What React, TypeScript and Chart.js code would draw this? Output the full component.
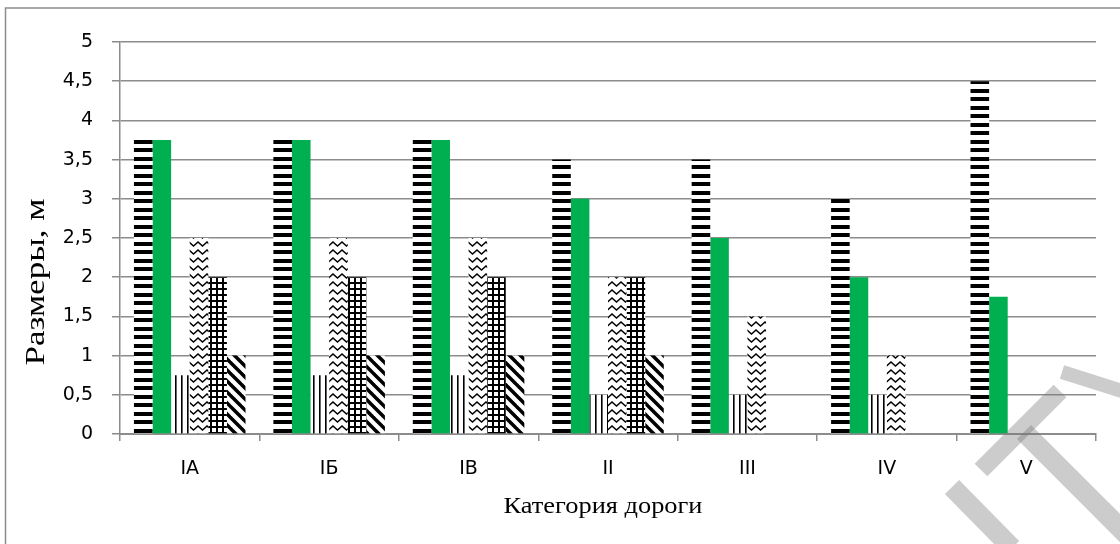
import React, { useEffect, useRef } from 'react';
import { Chart, registerables } from 'chart.js';

Chart.register(...registerables);

const categories = ['IA', 'IБ', 'IВ', 'II', 'III', 'IV', 'V'];
const laneWidth = [3.75, 3.75, 3.75, 3.5, 3.5, 3.0, 4.5];
const shoulderWidth = [3.75, 3.75, 3.75, 3.0, 2.5, 2.0, 1.75];
const edgeStrip = [0.75, 0.75, 0.75, 0.5, 0.5, 0.5, null];
const stripFour = [2.5, 2.5, 2.5, 2.0, 1.5, 1.0, null];
const medianWidth = [2, 2, 2, 2, null, null, null];
const medianStrip = [1, 1, 1, 1, null, null, null];

const yMin = 0;
const yMax = 5;
const yStep = 0.5;

const yTitle = 'Размеры, м';
const xTitle = 'Категория дороги';

const tickFont = '"DejaVu Sans", "Open Sans", sans-serif';
const titleFont = '"Liberation Serif", "Times New Roman", serif';
const axisGray = '#8c8c8c';

function makePattern(
  ctx: CanvasRenderingContext2D,
  w: number,
  h: number,
  draw: (c: CanvasRenderingContext2D) => void
): CanvasPattern | string {
  const tile = document.createElement('canvas');
  tile.width = w;
  tile.height = h;
  const t = tile.getContext('2d');
  if (!t) return '#000';
  t.fillStyle = '#ffffff';
  t.fillRect(0, 0, w, h);
  t.fillStyle = '#000000';
  t.strokeStyle = '#000000';
  draw(t);
  return ctx.createPattern(tile, 'repeat') || '#000';
}

const decorPlugin = {
  id: 'decor',
  afterDraw(chart: any) {
    const ctx: CanvasRenderingContext2D = chart.ctx;
    const area = chart.chartArea;
    ctx.save();
    // outer chart frame
    ctx.strokeStyle = axisGray;
    ctx.lineWidth = 1.5;
    ctx.beginPath();
    ctx.moveTo(5.5, 544);
    ctx.lineTo(5.5, 8);
    ctx.lineTo(1120, 8);
    ctx.stroke();

    // axis titles
    ctx.fillStyle = '#000';
    ctx.textAlign = 'center';
    ctx.textBaseline = 'middle';
    ctx.save();
    ctx.translate(37, 282);
    ctx.rotate(-Math.PI / 2);
    ctx.scale(1.3, 1);
    ctx.font = '27px ' + titleFont;
    ctx.fillText(yTitle, 0, 0);
    ctx.restore();
    ctx.save();
    ctx.translate((area.left + area.right) / 2 - 5, 507);
    ctx.scale(1.1, 1);
    ctx.font = '24px ' + titleFont;
    ctx.fillText(xTitle, 0, 0);
    ctx.restore();

    // watermark fragment
    ctx.strokeStyle = 'rgba(120,120,120,0.38)';
    ctx.lineCap = 'butt';
    const seg = (x1: number, y1: number, x2: number, y2: number, w: number) => {
      ctx.lineWidth = w;
      ctx.beginPath();
      ctx.moveTo(x1, y1);
      ctx.lineTo(x2, y2);
      ctx.stroke();
    };
    seg(981, 470, 1060, 391, 18);
    seg(1024, 432, 1135, 543, 20);
    seg(1062, 372, 1125, 392, 14);
    seg(952, 487, 1012, 548, 20);
    ctx.restore();
  },
};

export default function App() {
  const canvasRef = useRef<HTMLCanvasElement | null>(null);

  useEffect(() => {
    const canvas = canvasRef.current;
    if (!canvas) return;
    const ctx = canvas.getContext('2d');
    if (!ctx) return;

    const hStripes = makePattern(ctx, 4, 17, (t) => {
      t.fillRect(0, 4, 4, 4);
      t.fillRect(0, 12, 4, 4);
    });
    const vLines = makePattern(ctx, 6, 4, (t) => {
      t.fillRect(1, 0, 1.6, 4);
    });
    const zigzag = makePattern(ctx, 9, 8, (t) => {
      t.lineWidth = 1.4;
      t.beginPath();
      t.moveTo(-4.5, 6);
      t.lineTo(0, 2);
      t.lineTo(4.5, 6);
      t.lineTo(9, 2);
      t.lineTo(13.5, 6);
      t.stroke();
    });
    const grid = makePattern(ctx, 6, 6, (t) => {
      t.fillRect(0, 0, 6, 2);
      t.fillRect(0, 0, 2, 6);
    });
    const diag = makePattern(ctx, 11, 11, (t) => {
      t.lineWidth = 3.5;
      for (const k of [-11, 0, 11]) {
        t.beginPath();
        t.moveTo(k - 1, -1);
        t.lineTo(k + 12, 12);
        t.stroke();
      }
    });

    const common = { borderWidth: 0, barPercentage: 1, categoryPercentage: 0.8 };

    const chart = new Chart(ctx, {
      type: 'bar',
      data: {
        labels: categories,
        datasets: [
          { label: 'Ширина полосы движения', data: laneWidth, backgroundColor: hStripes, ...common },
          { label: 'Ширина обочины', data: shoulderWidth, backgroundColor: '#00B050', ...common },
          { label: 'Краевая полоса', data: edgeStrip, backgroundColor: vLines, ...common },
          { label: 'Укреплённая полоса', data: stripFour, backgroundColor: zigzag, ...common },
          { label: 'Разделительная полоса', data: medianWidth, backgroundColor: grid, ...common },
          { label: 'Краевая полоса у разделительной', data: medianStrip, backgroundColor: diag, ...common },
        ],
      } as any,
      options: {
        animation: false,
        responsive: false,
        maintainAspectRatio: false,
        layout: { padding: { top: 42, right: 24, left: 0, bottom: 0 } },
        plugins: {
          legend: { display: false },
          tooltip: { enabled: false },
          title: { display: false },
        },
        scales: {
          x: {
            grid: {
              display: true,
              drawOnChartArea: false,
              drawTicks: true,
              tickLength: 7,
              color: axisGray,
              lineWidth: 1.5,
              offset: true,
            },
            border: { display: true, color: axisGray, width: 2 },
            ticks: {
              font: { family: tickFont, size: 19 },
              color: '#000',
              padding: 17,
              maxRotation: 0,
              autoSkip: false,
            },
            afterFit: (s: any) => {
              s.height = 110;
            },
          },
          y: {
            min: yMin,
            max: yMax,
            ticks: {
              stepSize: yStep,
              callback: (v: any) => String(v).replace('.', ','),
              font: { family: tickFont, size: 19 },
              color: '#000',
              padding: 19,
            },
            grid: { color: axisGray, lineWidth: 1.5, tickLength: 8, drawTicks: true },
            border: { display: true, color: axisGray, width: 1.5 },
            afterFit: (s: any) => {
              s.width = 120;
            },
          },
        },
      } as any,
      plugins: [decorPlugin],
    });

    return () => {
      chart.destroy();
    };
  }, []);

  return (
    <div style={{ position: 'fixed', left: 0, top: 0, width: 1120, height: 544, background: '#fff' }}>
      <canvas ref={canvasRef} width={1120} height={544} style={{ display: 'block' }} />
    </div>
  );
}
